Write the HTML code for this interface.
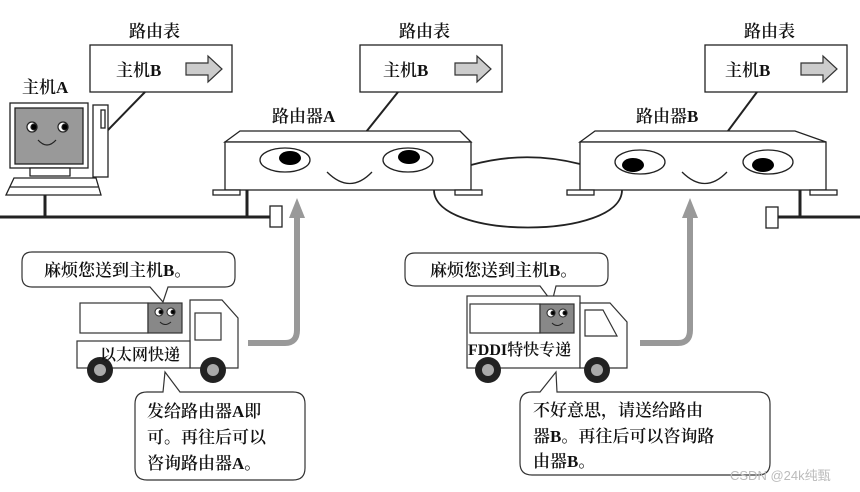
<!DOCTYPE html>
<html><head><meta charset="utf-8"><style>
body{margin:0;background:#fff}
svg{display:block}
text{font-family:"Liberation Serif","Noto Serif CJK SC",serif;fill:#111;font-weight:600}
</style></head><body>
<svg width="860" height="492" viewBox="0 0 860 492" xmlns="http://www.w3.org/2000/svg">
<defs>
<g id="arr"><path d="M0,-6 L22,-6 L22,-13 L36,0 L22,13 L22,6 L0,6 Z" fill="#ccc" stroke="#333" stroke-width="1.2"/></g>
</defs>
<g stroke="#222" fill="none" stroke-width="1.3">
<rect x="90" y="45" width="142" height="47" fill="#fff"/>
<rect x="360" y="45" width="142" height="47" fill="#fff"/>
<rect x="705" y="45" width="142" height="47" fill="#fff"/>
<line x1="145" y1="92" x2="108" y2="130" stroke-width="2"/>
<line x1="398" y1="92" x2="366" y2="132" stroke-width="2"/>
<line x1="757" y1="92" x2="728" y2="131" stroke-width="2"/>
<rect x="10" y="103" width="78" height="65" fill="#fff"/>
<rect x="15" y="108" width="68" height="56" fill="#999"/>
<rect x="93" y="105" width="15" height="72" fill="#fff"/>
<rect x="101" y="110" width="4" height="18"/>
<rect x="30" y="168" width="40" height="8" fill="#fff"/>
<path d="M14,178 L96,178 L101,195 L6,195 Z" fill="#fff"/>
<line x1="10" y1="187" x2="98" y2="187"/>
<line x1="0" y1="217" x2="270" y2="217" stroke-width="3"/>
<line x1="45" y1="195" x2="45" y2="217" stroke-width="3"/>
<line x1="247" y1="190" x2="247" y2="217" stroke-width="3"/>
<rect x="270" y="206" width="12" height="21" fill="#fff"/>
<line x1="778" y1="217" x2="860" y2="217" stroke-width="3"/>
<line x1="800" y1="190" x2="800" y2="217" stroke-width="3"/>
<rect x="766" y="207" width="12" height="21" fill="#fff"/>
<path d="M471,165 Q525,150 580,164" stroke-width="1.8"/>
<path d="M434,190 C434,240 622,240 622,190" stroke-width="1.8"/>
<path d="M225,142 L240,131 L460,131 L471,142 Z" fill="#fff"/>
<rect x="225" y="142" width="246" height="48" fill="#fff"/>
<rect x="213" y="190" width="27" height="5" fill="#fff"/>
<rect x="455" y="190" width="27" height="5" fill="#fff"/>
<ellipse cx="285" cy="160" rx="25" ry="12"/>
<ellipse cx="408" cy="160" rx="25" ry="12"/>
<path d="M327,172 Q350,195 372,172"/>
<path d="M580,142 L595,131 L795,131 L826,142 Z" fill="#fff"/>
<rect x="580" y="142" width="246" height="48" fill="#fff"/>
<rect x="567" y="190" width="27" height="5" fill="#fff"/>
<rect x="810" y="190" width="27" height="5" fill="#fff"/>
<ellipse cx="640" cy="162" rx="25" ry="12"/>
<ellipse cx="768" cy="162" rx="25" ry="12"/>
<path d="M682,172 Q705,195 727,172"/>
</g>
<g fill="#000">
<ellipse cx="290" cy="158" rx="11" ry="7"/>
<ellipse cx="409" cy="157" rx="11" ry="7"/>
<ellipse cx="633" cy="165" rx="11" ry="7"/>
<ellipse cx="763" cy="165" rx="11" ry="7"/>
</g>
<g stroke="#222" stroke-width="1.2">
<circle cx="32" cy="127" r="5" fill="#fff"/><circle cx="34" cy="127" r="3" fill="#000"/>
<circle cx="63" cy="127" r="5" fill="#fff"/><circle cx="65" cy="127" r="3" fill="#000"/>
<path d="M38,140 Q47,150 56,140" fill="none"/>
</g>
<use href="#arr" x="186" y="69"/>
<use href="#arr" x="455" y="69"/>
<use href="#arr" x="801" y="69"/>
<g stroke="#999" stroke-width="6" fill="none">
<path d="M248,343 L285,343 Q297,343 297,330 L297,215"/>
<path d="M640,343 L678,343 Q690,343 690,330 L690,215"/>
</g>
<path d="M289,218 L297,198 L305,218 Z" fill="#999"/>
<path d="M682,218 L690,198 L698,218 Z" fill="#999"/>
<g stroke="#333" stroke-width="1.2" fill="#fff">
<path d="M32,252 L225,252 Q235,252 235,262 L235,277 Q235,287 225,287 L168,287 L163,302 L150,287 L32,287 Q22,287 22,277 L22,262 Q22,252 32,252 Z"/>
<path d="M415,253 L598,253 Q608,253 608,263 L608,276 Q608,286 598,286 L556,286 L552,302 L540,286 L415,286 Q405,286 405,276 L405,263 Q405,253 415,253 Z"/>
<rect x="80" y="303" width="68" height="30"/>
<rect x="148" y="303" width="34" height="30" fill="#888"/>
<path d="M190,300 L222,300 L238,318 L238,368 L190,368 Z"/>
<rect x="195" y="313" width="26" height="27"/>
<rect x="77" y="341" width="113" height="27"/>
<rect x="467" y="296" width="113" height="72"/>
<rect x="470" y="304" width="70" height="29"/>
<rect x="540" y="304" width="34" height="29" fill="#888"/>
<path d="M580,303 L610,303 L627,322 L627,368 L580,368 Z"/>
<path d="M585,310 L603,310 L617,336 L585,336 Z"/>
<path d="M147,392 L163,392 L165,372 L180,392 L293,392 Q305,392 305,404 L305,468 Q305,480 293,480 L147,480 Q135,480 135,468 L135,404 Q135,392 147,392 Z"/>
<path d="M532,392 L540,392 L556,372 L557,392 L758,392 Q770,392 770,404 L770,463 Q770,475 758,475 L532,475 Q520,475 520,463 L520,404 Q520,392 532,392 Z"/>
</g>
<g stroke="#222" stroke-width="1">
<circle cx="159" cy="312" r="4" fill="#fff"/><circle cx="161" cy="312" r="2" fill="#000"/>
<circle cx="171" cy="312" r="4" fill="#fff"/><circle cx="173" cy="312" r="2" fill="#000"/>
<path d="M160,322 Q165,327 171,322" fill="none"/>
<circle cx="551" cy="313" r="4" fill="#fff"/><circle cx="553" cy="313" r="2" fill="#000"/>
<circle cx="563" cy="313" r="4" fill="#fff"/><circle cx="565" cy="313" r="2" fill="#000"/>
<path d="M552,323 Q557,328 563,323" fill="none"/>
</g>
<g fill="#222">
<circle cx="100" cy="370" r="13"/><circle cx="213" cy="370" r="13"/>
<circle cx="488" cy="370" r="13"/><circle cx="597" cy="370" r="13"/>
</g>
<g fill="#aaa">
<circle cx="100" cy="370" r="6"/><circle cx="213" cy="370" r="6"/>
<circle cx="488" cy="370" r="6"/><circle cx="597" cy="370" r="6"/>
</g>
<g font-size="17">
<text x="129" y="37">路由表</text>
<text x="399" y="37">路由表</text>
<text x="744" y="37">路由表</text>
<text x="116" y="76">主机B</text>
<text x="383" y="76">主机B</text>
<text x="725" y="76">主机B</text>
<text x="22" y="93">主机A</text>
<text x="272" y="122">路由器A</text>
<text x="636" y="122">路由器B</text>
<text x="44" y="276">麻烦您送到主机B。</text>
<text x="430" y="276">麻烦您送到主机B。</text>
<text x="100" y="360" font-size="16">以太网快递</text>
<text x="468" y="355" font-size="16">FDDI特快专递</text>
<text x="147" y="417">发给路由器A即</text>
<text x="147" y="443">可。再往后可以</text>
<text x="147" y="469">咨询路由器A。</text>
<text x="533" y="416">不好意思，请送给路由</text>
<text x="533" y="442">器B。再往后可以咨询路</text>
<text x="533" y="467">由器B。</text>
</g>
<text x="730" y="480" font-size="13" style="fill:#bbb;font-weight:400;font-family:'Liberation Sans','Noto Sans CJK SC',sans-serif">CSDN @24k纯甄</text>
</svg>
</body></html>
